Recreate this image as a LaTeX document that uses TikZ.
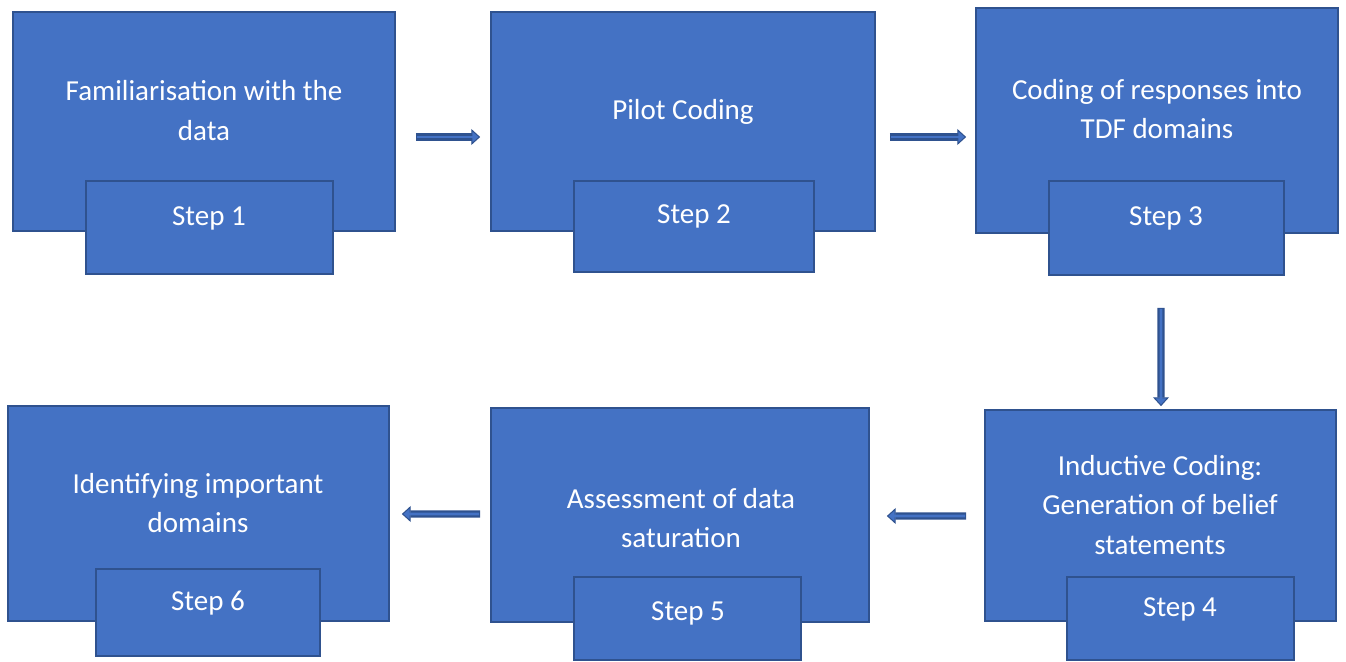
\documentclass[tikz,border=0pt]{standalone}
\usepackage{fontspec}
\setmainfont{Carlito}
\usetikzlibrary{calc,arrows.meta}

\definecolor{boxfill}{HTML}{4472C4}
\definecolor{boxedge}{HTML}{2F528F}

\tikzset{
  bigbox/.style={draw=boxedge, fill=boxfill, line width=1pt, inner sep=0pt},
  stepbox/.style={draw=boxedge, fill=boxfill, line width=1pt, inner sep=0pt},
  boxtext/.style={text=white, align=center, font=\fontsize{16.5}{22.3}\selectfont},
  blockarrow/.style={draw=boxedge, line width=4pt,
    -{Triangle[length=5pt, width=9pt, line width=0.6pt, fill=boxfill]},
    postaction={draw=boxfill, line width=1.6pt, -, shorten >=2pt, shorten <=0.6pt}}
}

\begin{document}
\begin{tikzpicture}[x=0.02cm, y=-0.02cm]

  \useasboundingbox (0,0) rectangle (1346,662);

  % top row
  \node[bigbox, minimum width=7.64cm, minimum height=4.38cm] (b1) at (204,121.5) {};
  \node[boxtext] (t1) at (204,110.5) {Familiarisation with the\\data};
  \node[stepbox, minimum width=4.94cm, minimum height=1.86cm] (s1) at (209.5,227.5) {};
  \node[boxtext] (l1) at (209,218.5) {Step 1};

  \node[bigbox, minimum width=7.68cm, minimum height=4.38cm] (b2) at (683,121.5) {};
  \node[boxtext] (t2) at (683,111.5) {Pilot Coding};
  \node[stepbox, minimum width=4.80cm, minimum height=1.82cm] (s2) at (694,226.5) {};
  \node[boxtext] (l2) at (694,216.5) {Step 2};

  \node[bigbox, minimum width=7.24cm, minimum height=4.50cm] (b3) at (1157,120.5) {};
  \node[boxtext] (t3) at (1157,109) {Coding of responses into\\TDF domains};
  \node[stepbox, minimum width=4.70cm, minimum height=1.88cm] (s3) at (1166.5,228) {};
  \node[boxtext] (l3) at (1166,218.5) {Step 3};

  % bottom row
  \node[bigbox, minimum width=7.02cm, minimum height=4.22cm] (b4) at (1160.5,515.5) {};
  \node[boxtext] (t4) at (1160,505) {Inductive Coding:\\Generation of belief\\statements};
  \node[stepbox, minimum width=4.54cm, minimum height=1.66cm] (s4) at (1180.5,618.5) {};
  \node[boxtext] (l4) at (1180,609.5) {Step 4};

  \node[bigbox, minimum width=7.56cm, minimum height=4.28cm] (b5) at (680,515) {};
  \node[boxtext] (t5) at (681,518) {Assessment of data\\saturation};
  \node[stepbox, minimum width=4.54cm, minimum height=1.66cm] (s5) at (687.5,618.5) {};
  \node[boxtext] (l5) at (688,613.5) {Step 5};

  \node[bigbox, minimum width=7.62cm, minimum height=4.30cm] (b6) at (198.5,513.5) {};
  \node[boxtext] (t6) at (198,503) {Identifying important\\domains};
  \node[stepbox, minimum width=4.48cm, minimum height=1.74cm] (s6) at (208,612.5) {};
  \node[boxtext] (l6) at (208,603.5) {Step 6};

  % arrows between the steps
  \draw[blockarrow] ($(b1.east)+(20,15.5)$) -- ($(b2.west)+(-10,15.5)$);
  \draw[blockarrow] ($(b2.east)+(14,15.5)$) -- ($(b3.west)+(-9,16.5)$);
  \draw[blockarrow] ($(s3.south)+(-5.5,32)$) -- ($(b4.north)+(0.5,-3)$);
  \draw[blockarrow] ($(b4.west)+(-18,0.5)$) -- ($(b5.east)+(17,1)$);
  \draw[blockarrow] ($(b5.west)+(-10,-1)$) -- ($(b6.east)+(12,0.5)$);

\end{tikzpicture}
\end{document}
